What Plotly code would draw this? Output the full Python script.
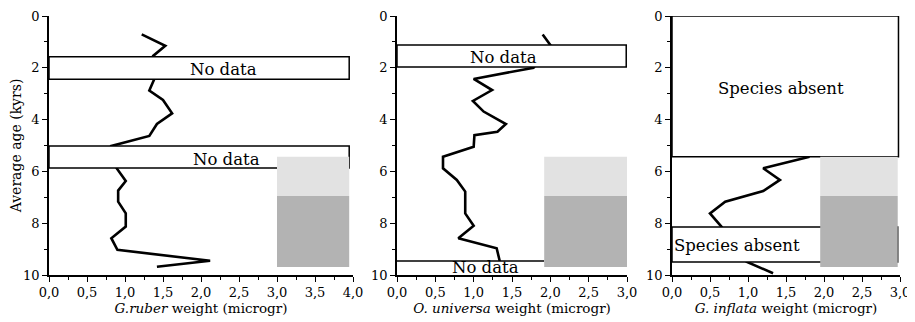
import plotly.graph_objects as go

# ---- data ----
ruber_weight = [1.22, 1.53, 1.37, 1.38, 1.32, 1.50, 1.62, 1.42, 1.32, 0.82,
                0.89, 1.01, 0.91, 0.91, 1.01, 1.01, 0.82, 0.90, 2.12, 1.42]
ruber_age = [0.71, 1.15, 1.54, 2.47, 2.88, 3.24, 3.76, 4.17, 4.63, 5.02,
             5.88, 6.37, 6.74, 7.17, 7.62, 8.13, 8.58, 9.03, 9.45, 9.68]

universa_weight = [1.90, 2.00, 1.78, 1.00, 1.24, 0.99, 1.13, 1.42, 1.31, 1.01,
                   1.00, 0.60, 0.60, 0.78, 0.89, 0.89, 1.00, 0.80, 1.30, 1.34]
universa_age = [0.71, 1.12, 2.00, 2.43, 2.86, 3.28, 3.69, 4.17, 4.47, 4.60,
                5.05, 5.43, 5.88, 6.33, 6.78, 7.62, 8.10, 8.58, 8.97, 9.46]

inflata_weight = [1.81, 1.20, 1.42, 1.20, 0.70, 0.50, 0.65, 0.98, 1.33]
inflata_age = [5.43, 5.88, 6.33, 6.76, 7.17, 7.62, 8.13, 9.49, 9.93]

x_titles = ["<i>G.ruber</i> weight (microgr)",
            "<i>O. universa</i> weight (microgr)",
            "<i>G. inflata</i> weight (microgr)"]
y_title = "Average age (kyrs)"
x_max = [4.0, 3.0, 3.0]

# gap boxes: (panel, age_top, age_bottom, x_right, label, label_x, label_y)
boxes = [
    (1, 1.57, 2.44, 3.95, "No data", 2.30, 2.08),
    (1, 5.02, 5.87, 3.95, "No data", 2.34, 5.53),
    (2, 1.12, 1.97, 2.99, "No data", 1.39, 1.60),
    (3, 0.0, 5.43, 2.98, "Species absent", 1.43, 2.80),
    (3, 8.15, 9.50, 2.97, "Species absent", 0.855, 8.85),
]
# open box at bottom of panel 2 (age_top, x_right, label, label_x, label_y)
bottom_gap = (9.46, 1.92, "No data", 1.16, 9.72)

# grey blocks: (panel, x_left, x_right)
grey_x = [(1, 3.0, 3.95), (2, 1.92, 3.0), (3, 1.95, 2.97)]
grey_light = (5.43, 6.95)
grey_dark = (6.95, 9.69)

FONT = "DejaVu Serif"

OFF = 8  # page body margin
W, H = 915 - OFF, 322 - OFF
x_dom_px = [(49 - OFF, 353 - OFF), (397 - OFF, 627 - OFF), (672 - OFF, 900 - OFF)]
y_top_px, y_bot_px = 16 - OFF, 275 - OFF

fig = go.Figure()
series = [(ruber_weight, ruber_age), (universa_weight, universa_age),
          (inflata_weight, inflata_age)]
for i, (xw, ya) in enumerate(series):
    sfx = "" if i == 0 else str(i + 1)
    fig.add_trace(go.Scatter(x=xw, y=ya, mode="lines",
                             line=dict(color="black", width=2.6),
                             xaxis="x" + sfx, yaxis="y" + sfx,
                             showlegend=False, hoverinfo="skip"))

shapes = []
annotations = []
def ref(p):
    return ("x" if p == 1 else "x%d" % p), ("y" if p == 1 else "y%d" % p)

for (p, a0, a1, xr, lab, lx, ly) in boxes:
    xr_, yr_ = ref(p)
    shapes.append(dict(type="rect", xref=xr_, yref=yr_, x0=0, x1=xr, y0=a0, y1=a1,
                       fillcolor="white", line=dict(color="black", width=1.5),
                       layer="above"))
    annotations.append(dict(xref=xr_, yref=yr_, x=lx, y=ly, text=lab, showarrow=False,
                            font=dict(family=FONT, size=16.5, color="black")))

xr_, yr_ = ref(2)
shapes.append(dict(type="rect", xref=xr_, yref=yr_, x0=0, x1=bottom_gap[1],
                   y0=bottom_gap[0], y1=10, fillcolor="white",
                   line=dict(width=0), layer="above"))
shapes.append(dict(type="line", xref=xr_, yref=yr_, x0=0, x1=bottom_gap[1],
                   y0=bottom_gap[0], y1=bottom_gap[0],
                   line=dict(color="black", width=1.5), layer="above"))
annotations.append(dict(xref=xr_, yref=yr_, x=bottom_gap[3], y=bottom_gap[4],
                        text=bottom_gap[2], showarrow=False,
                        font=dict(family=FONT, size=16.5, color="black")))

for (p, gx0, gx1) in grey_x:
    xr_, yr_ = ref(p)
    shapes.append(dict(type="rect", xref=xr_, yref=yr_, x0=gx0, x1=gx1,
                       y0=grey_light[0], y1=grey_light[1], fillcolor="#e2e2e2",
                       line=dict(width=0), layer="above"))
    shapes.append(dict(type="rect", xref=xr_, yref=yr_, x0=gx0, x1=gx1,
                       y0=grey_dark[0], y1=grey_dark[1], fillcolor="#b3b3b3",
                       line=dict(width=0), layer="above"))

layout = dict(width=W, height=H, margin=dict(l=0, r=0, t=0, b=0),
              paper_bgcolor="white", plot_bgcolor="white",
              separators=",.", shapes=shapes, annotations=annotations,
              font=dict(family=FONT, color="black"))

for i in range(3):
    sfx = "" if i == 0 else str(i + 1)
    x0p, x1p = x_dom_px[i]
    layout["xaxis" + sfx] = dict(
        domain=[x0p / W, x1p / W], range=[0, x_max[i]], anchor="y" + sfx,
        automargin=False,
        showgrid=False, zeroline=False, showline=True, linecolor="black", linewidth=1.5,
        ticks="outside", ticklen=5, tickwidth=1.2, tickcolor="black",
        dtick=0.5, tick0=0, tickformat=".1f",
        minor=dict(ticks="outside", ticklen=3, dtick=0.25, tickcolor="black", tickwidth=1),
        tickfont=dict(family=FONT, size=13, color="black"),
        title=dict(text=x_titles[i], font=dict(family=FONT, size=13.5, color="black"),
                   standoff=4),
        fixedrange=True)
    layout["yaxis" + sfx] = dict(
        domain=[1 - y_bot_px / H, 1 - y_top_px / H], range=[10, 0], anchor="x" + sfx,
        automargin=False,
        showgrid=False, zeroline=False, showline=True, linecolor="black", linewidth=1.5,
        ticks="outside", ticklen=5, tickwidth=1.2, tickcolor="black",
        tickvals=[0, 2, 4, 6, 8, 10],
        minor=dict(ticks="outside", ticklen=3, dtick=1, tickcolor="black", tickwidth=1),
        tickfont=dict(family=FONT, size=13, color="black"),
        title=dict(text=y_title if i == 0 else "",
                   font=dict(family=FONT, size=14, color="black"), standoff=9),
        fixedrange=True)

fig.update_layout(**layout)
fig.write_html("out.html")
